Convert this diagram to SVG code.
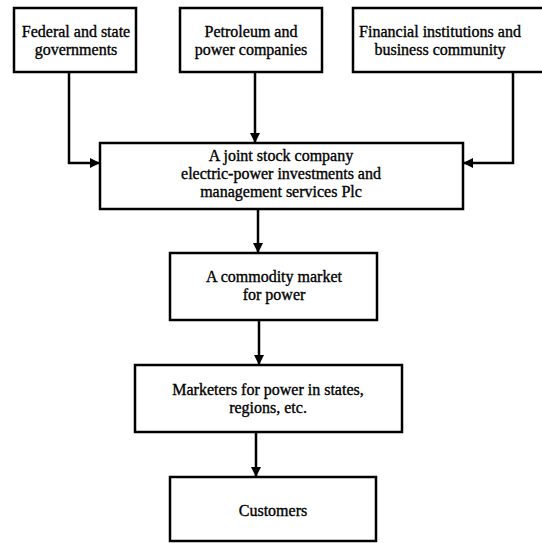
<svg xmlns="http://www.w3.org/2000/svg" width="542" height="543" viewBox="0 0 542 543">
<defs>
<marker id="ah" markerWidth="10" markerHeight="10" refX="10" refY="5" orient="auto" markerUnits="userSpaceOnUse">
<path d="M0,0 L10,5 L0,10 Z" fill="#000"/>
</marker>
<style>
.box{fill:#fff;stroke:#000;stroke-width:2.5}
.t{font-family:"Liberation Serif","Times New Roman",serif;font-size:16px;fill:#000;stroke:#000;stroke-width:0.35;text-anchor:middle}
.c{fill:none;stroke:#000;stroke-width:2.5;marker-end:url(#ah)}
</style>
</defs>
<rect width="542" height="543" fill="#fff"/>
<g id="n1"><rect class="box" x="14" y="8" width="122" height="64"/>
<text class="t" x="76" y="37">Federal and state</text><text class="t" x="76" y="55">governments</text></g>
<g id="n2"><rect class="box" x="180" y="8" width="142" height="64"/>
<text class="t" x="251" y="37">Petroleum and</text><text class="t" x="251" y="55">power companies</text></g>
<g id="n3"><rect class="box" x="353" y="8" width="195" height="64"/>
<text class="t" x="440" y="37">Financial institutions and</text><text class="t" x="440" y="55">business community</text></g>
<g id="n4"><rect class="box" x="100" y="143" width="363" height="66"/>
<text class="t" x="281" y="161">A joint stock company</text><text class="t" x="281" y="179">electric-power investments and</text><text class="t" x="281" y="197">management services Plc</text></g>
<g id="n5"><rect class="box" x="170" y="253" width="207" height="67"/>
<text class="t" x="274" y="282">A commodity market</text><text class="t" x="274" y="300">for power</text></g>
<g id="n6"><rect class="box" x="135" y="365" width="267" height="67"/>
<text class="t" x="268" y="395">Marketers for power in states,</text><text class="t" x="268" y="413">regions, etc.</text></g>
<g id="n7"><rect class="box" x="170" y="477" width="206" height="64"/>
<text class="t" x="273" y="516">Customers</text></g>
<g id="connectors">
<path class="c" d="M69,72 V163 H100"/>
<path class="c" d="M255,72 V143"/>
<path class="c" d="M513,72 V163 H463"/>
<path class="c" d="M258,209 V253"/>
<path class="c" d="M259,320 V365"/>
<path class="c" d="M256,432 V477"/>
</g>
</svg>
